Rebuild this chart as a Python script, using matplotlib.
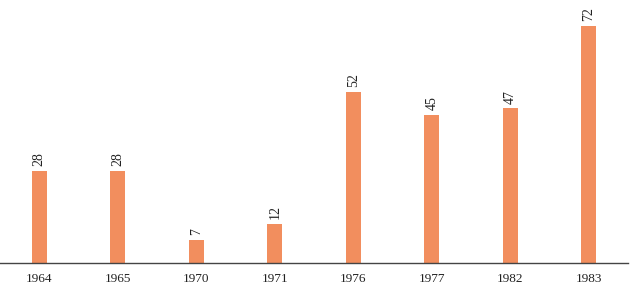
import matplotlib.pyplot as plt

years = ['1964', '1965', '1970', '1971', '1976', '1977', '1982', '1983']
values = [28, 28, 7, 12, 52, 45, 47, 72]

plt.rcParams['font.family'] = ['Liberation Serif', 'DejaVu Serif']

fig = plt.figure(figsize=(6.32, 2.91), dpi=100)
ax = fig.add_axes([0, 28 / 291, 628 / 632, 263 / 291])

x = range(len(years))
bars = ax.bar(x, values, width=0.19, color='#F28E5E')

for xi, v in zip(x, values):
    ax.annotate(str(v), (xi, v), xytext=(0, 3.5), textcoords='offset points',
                rotation=90, ha='center', va='bottom', fontsize=10, color='#222222')

ax.set_xlim(-0.5, len(years) - 0.5)
ax.set_ylim(0, 80)
ax.set_xticks(list(x))
ax.set_xticklabels(years, fontsize=9.5, color='#222222')
ax.tick_params(axis='x', length=0, pad=7)
ax.set_yticks([])
for s in ['top', 'right', 'left']:
    ax.spines[s].set_visible(False)
ax.spines['bottom'].set_color('#444444')
ax.spines['bottom'].set_linewidth(1)

fig.savefig('out.png', dpi=100)
